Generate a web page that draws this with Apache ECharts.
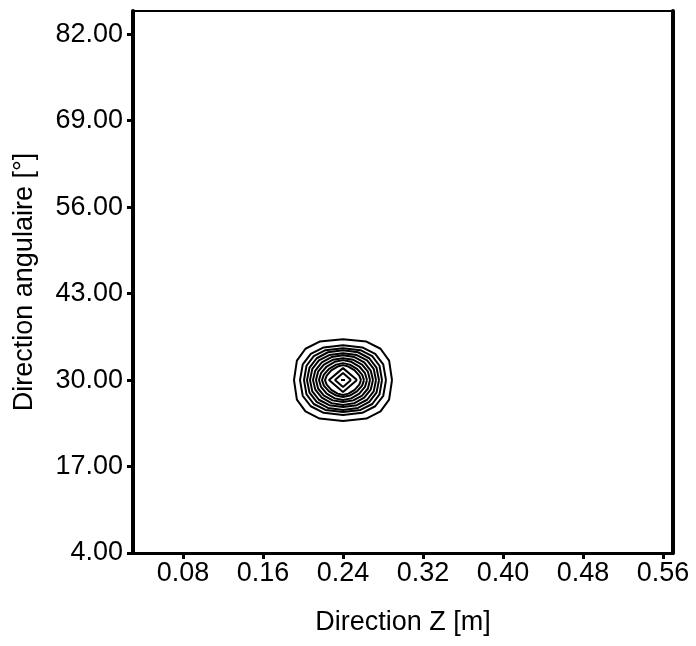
<!DOCTYPE html>
<html>
<head>
<meta charset="utf-8">
<script src="https://cdn.jsdelivr.net/npm/echarts@6/dist/echarts.min.js"></script>
<style>html,body{margin:0;padding:0;background:#fff}#c{width:696px;height:646px}</style>
</head>
<body>
<div id="c"></div>
<script>
// ---- data ----
const xTickValues = [0.08, 0.16, 0.24, 0.32, 0.40, 0.48, 0.56];
const yTickValues = [4, 17, 30, 43, 56, 69, 82];
const xRange = [0.03, 0.57];
const yRange = [4, 85.5];
const peakZ = 0.24;
const peakAngle = 30;
// contour rings: half-width in Z [m], half-height in angle [deg], roundness (1 = diamond)
const ringHalfWidthZ = [0.002, 0.008, 0.014, 0.018, 0.021, 0.024, 0.027, 0.030, 0.033, 0.036, 0.039, 0.043, 0.049];
const ringHalfHeightAngle = [0.3, 1.05, 1.8, 2.25, 2.55, 3.0, 3.3, 3.75, 4.05, 4.5, 4.8, 5.25, 6.15];
const ringRoundness = [1, 1, 1, 1.6, 1.7, 1.8, 2.0, 2.0, 2.2, 2.2, 2.4, 2.4, 2.6];

function ringPoints(i) {
  const rx = ringHalfWidthZ[i], ry = ringHalfHeightAngle[i], p = ringRoundness[i];
  const n = p === 1 ? 4 : 16;
  const pts = [];
  for (let k = 0; k <= n; k++) {
    const a = (k % n) / n * 2 * Math.PI;
    const c = Math.cos(a), s = Math.sin(a);
    const sc = Math.sign(c) * Math.pow(Math.abs(c), 2 / p);
    const ss = Math.sign(s) * Math.pow(Math.abs(s), 2 / p);
    pts.push([peakZ + rx * sc, peakAngle + ry * ss]);
  }
  return pts;
}

const FONT = 'Liberation Sans, Arial, sans-serif';
const series = ringHalfWidthZ.map((_, i) => ({
  type: 'line',
  data: ringPoints(i),
  xAxisIndex: 0, yAxisIndex: 0,
  symbol: 'none', showSymbol: false,
  lineStyle: { color: '#000', width: 2 },
  silent: true, animation: false, z: 3
}));

const chart = echarts.init(document.getElementById('c'), null, { renderer: 'canvas' });
chart.setOption({
  backgroundColor: '#fff',
  animation: false,
  grid: { left: 133, right: 23, top: 11, bottom: 93, containLabel: false },
  xAxis: [{
    type: 'value', position: 'bottom', min: xRange[0], max: xRange[1],
    name: 'Direction Z [m]', nameLocation: 'middle', nameGap: 56,
    nameTextStyle: { fontSize: 27, color: '#000', fontFamily: FONT },
    axisLine: { show: true, onZero: false, lineStyle: { color: '#000', width: 3 } },
    axisTick: { show: true, inside: false, length: 6, lineStyle: { color: '#000', width: 3 }, customValues: xTickValues },
    axisLabel: { show: true, fontSize: 27, color: '#000', fontFamily: FONT, margin: 7, customValues: xTickValues, formatter: v => v.toFixed(2) },
    splitLine: { show: false }
  }, {
    type: 'value', position: 'top', min: xRange[0], max: xRange[1],
    axisLine: { show: true, onZero: false, lineStyle: { color: '#000', width: 2 } },
    axisTick: { show: false }, axisLabel: { show: false }, splitLine: { show: false }
  }],
  yAxis: [{
    type: 'value', position: 'left', min: yRange[0], max: yRange[1],
    name: 'Direction angulaire [°]', nameLocation: 'middle', nameGap: 95, nameRotate: 90,
    nameTextStyle: { fontSize: 27, color: '#000', fontFamily: FONT },
    axisLine: { show: true, onZero: false, lineStyle: { color: '#000', width: 4 } },
    axisTick: { show: true, inside: false, length: 6, lineStyle: { color: '#000', width: 3 }, customValues: yTickValues },
    axisLabel: { show: true, fontSize: 27, color: '#000', fontFamily: FONT, margin: 10, customValues: yTickValues, formatter: v => v.toFixed(2) },
    splitLine: { show: false }
  }, {
    type: 'value', position: 'right', min: yRange[0], max: yRange[1],
    axisLine: { show: true, onZero: false, lineStyle: { color: '#000', width: 4 } },
    axisTick: { show: false }, axisLabel: { show: false }, splitLine: { show: false }
  }],
  series: series
});
</script>
</body>
</html>
